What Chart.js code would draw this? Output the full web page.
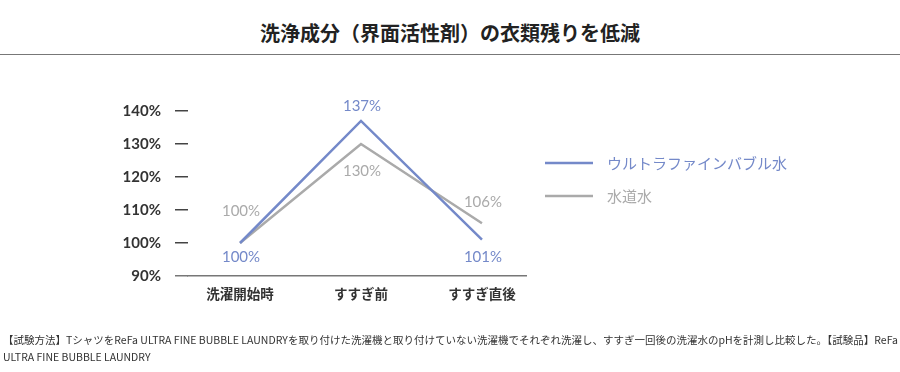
<!DOCTYPE html>
<html>
<head>
<meta charset="utf-8">
<script src="https://cdn.jsdelivr.net/npm/chart.js@4"></script>
<style>
  body { margin: 0; background: #fff; }
  #wrap { position: relative; width: 900px; height: 372px; overflow: hidden; }
  #titulo {
    position: absolute; left: 0; top: 18px; width: 900px; text-align: center;
    font-family: "Noto Sans CJK JP"; font-weight: 700; font-size: 20px; color: #222;
    line-height: 30px;
  }
  #linha { position: absolute; left: 0; top: 54px; width: 900px; height: 0; border-top: 1.5px solid #777; }
  #grafico { position: absolute; left: 0; top: 0; }
  #nota {
    position: absolute; left: 3px; top: 331px; width: 895px;
    font-family: "Noto Sans CJK JP"; font-size: 10.5px; color: #333; line-height: 17px;
  }
</style>
</head>
<body>
<div id="wrap">
  <div id="titulo">洗浄成分（界面活性剤）の衣類残りを低減</div>
  <div id="linha"></div>
  <canvas id="grafico" width="900" height="372"></canvas>
  <div id="nota">【試験方法】TシャツをReFa ULTRA FINE BUBBLE LAUNDRYを取り付けた洗濯機と取り付けていない洗濯機でそれぞれ洗濯し、すすぎ一回後の洗濯水のpHを計測し比較した。【試験品】ReFa<br>ULTRA FINE BUBBLE LAUNDRY</div>
</div>
<script>
const categorias = ['洗濯開始時', 'すすぎ前', 'すすぎ直後'];
const bolhaFina = [100, 137, 101];
const aguaTorneira = [100, 130, 106];
const nomesSeries = ['ウルトラファインバブル水', '水道水'];
const ticksY = [90, 100, 110, 120, 130, 140];

// deslocamento vertical dos rótulos de valor (px)
const offsetsAzul = [14, -15, 17];
const offsetsCinza = [-32, 27, -21];

const azul = '#7489c9';
const cinza = '#aaaaaa';

const rotulosPlugin = {
  id: 'rotulos',
  afterDatasetsDraw(chart) {
    const ctx = chart.ctx;
    const offs = [offsetsAzul, offsetsCinza];
    ctx.save();
    ctx.font = '15px Lato';
    ctx.textAlign = 'center';
    ctx.textBaseline = 'middle';
    chart.data.datasets.forEach((ds, i) => {
      const meta = chart.getDatasetMeta(i);
      ctx.fillStyle = ds.borderColor;
      meta.data.forEach((pt, j) => {
        ctx.fillText(ds.data[j].y + '%', pt.x + 1, pt.y + offs[i][j]);
      });
    });
    ctx.restore();
  },
  afterDraw(chart) {
    const ctx = chart.ctx;
    ctx.save();
    ctx.font = '15px "Noto Sans CJK JP"';
    ctx.textBaseline = 'middle';
    chart.data.datasets.forEach((ds, i) => {
      const y = 163 + i * 33;
      ctx.strokeStyle = ds.borderColor;
      ctx.lineWidth = 2.5;
      ctx.beginPath();
      ctx.moveTo(545, y);
      ctx.lineTo(593, y);
      ctx.stroke();
      ctx.fillStyle = ds.borderColor;
      ctx.fillText(ds.label, 607, y);
    });
    ctx.restore();
  }
};

const ctx = document.getElementById('grafico').getContext('2d');
new Chart(ctx, {
  type: 'line',
  data: {
    datasets: [
      {
        label: nomesSeries[0],
        data: bolhaFina.map((v, i) => ({ x: i, y: v })),
        borderColor: azul,
        borderWidth: 2.5,
        pointRadius: 0,
        tension: 0
      },
      {
        label: nomesSeries[1],
        data: aguaTorneira.map((v, i) => ({ x: i, y: v })),
        borderColor: cinza,
        borderWidth: 2.5,
        pointRadius: 0,
        tension: 0
      }
    ]
  },
  options: {
    responsive: false,
    animation: false,
    layout: { padding: { left: 0, top: 111, right: 374, bottom: 0 } },
    plugins: { legend: { display: false }, tooltip: { enabled: false } },
    scales: {
      x: {
        type: 'linear',
        min: -0.43,
        max: 2.364,
        afterBuildTicks: s => { s.ticks = categorias.map((c, i) => ({ value: i })); },
        afterFit: s => { s.height = 96; },
        grid: { display: false, drawTicks: false },
        border: { display: true, color: '#777', width: 1.5 },
        ticks: {
          padding: 10,
          color: '#333',
          font: { family: '"Noto Sans CJK JP"', size: 13.5, weight: 'bold' },
          callback: v => categorias[v]
        }
      },
      y: {
        min: 90,
        max: 140,
        afterBuildTicks: s => { s.ticks = ticksY.map(v => ({ value: v })); },
        afterFit: s => { s.width = 188; },
        grid: {
          drawOnChartArea: false,
          drawTicks: true,
          tickLength: 13,
          lineWidth: 1.5,
          color: c => (c.tick && c.tick.value === 90) ? '#777' : '#444'
        },
        border: { display: false },
        ticks: {
          padding: 14,
          color: '#333',
          font: { family: 'Lato', size: 15, weight: 'bold' },
          callback: v => v + '%'
        }
      }
    }
  },
  plugins: [rotulosPlugin]
});
</script>
</body>
</html>
